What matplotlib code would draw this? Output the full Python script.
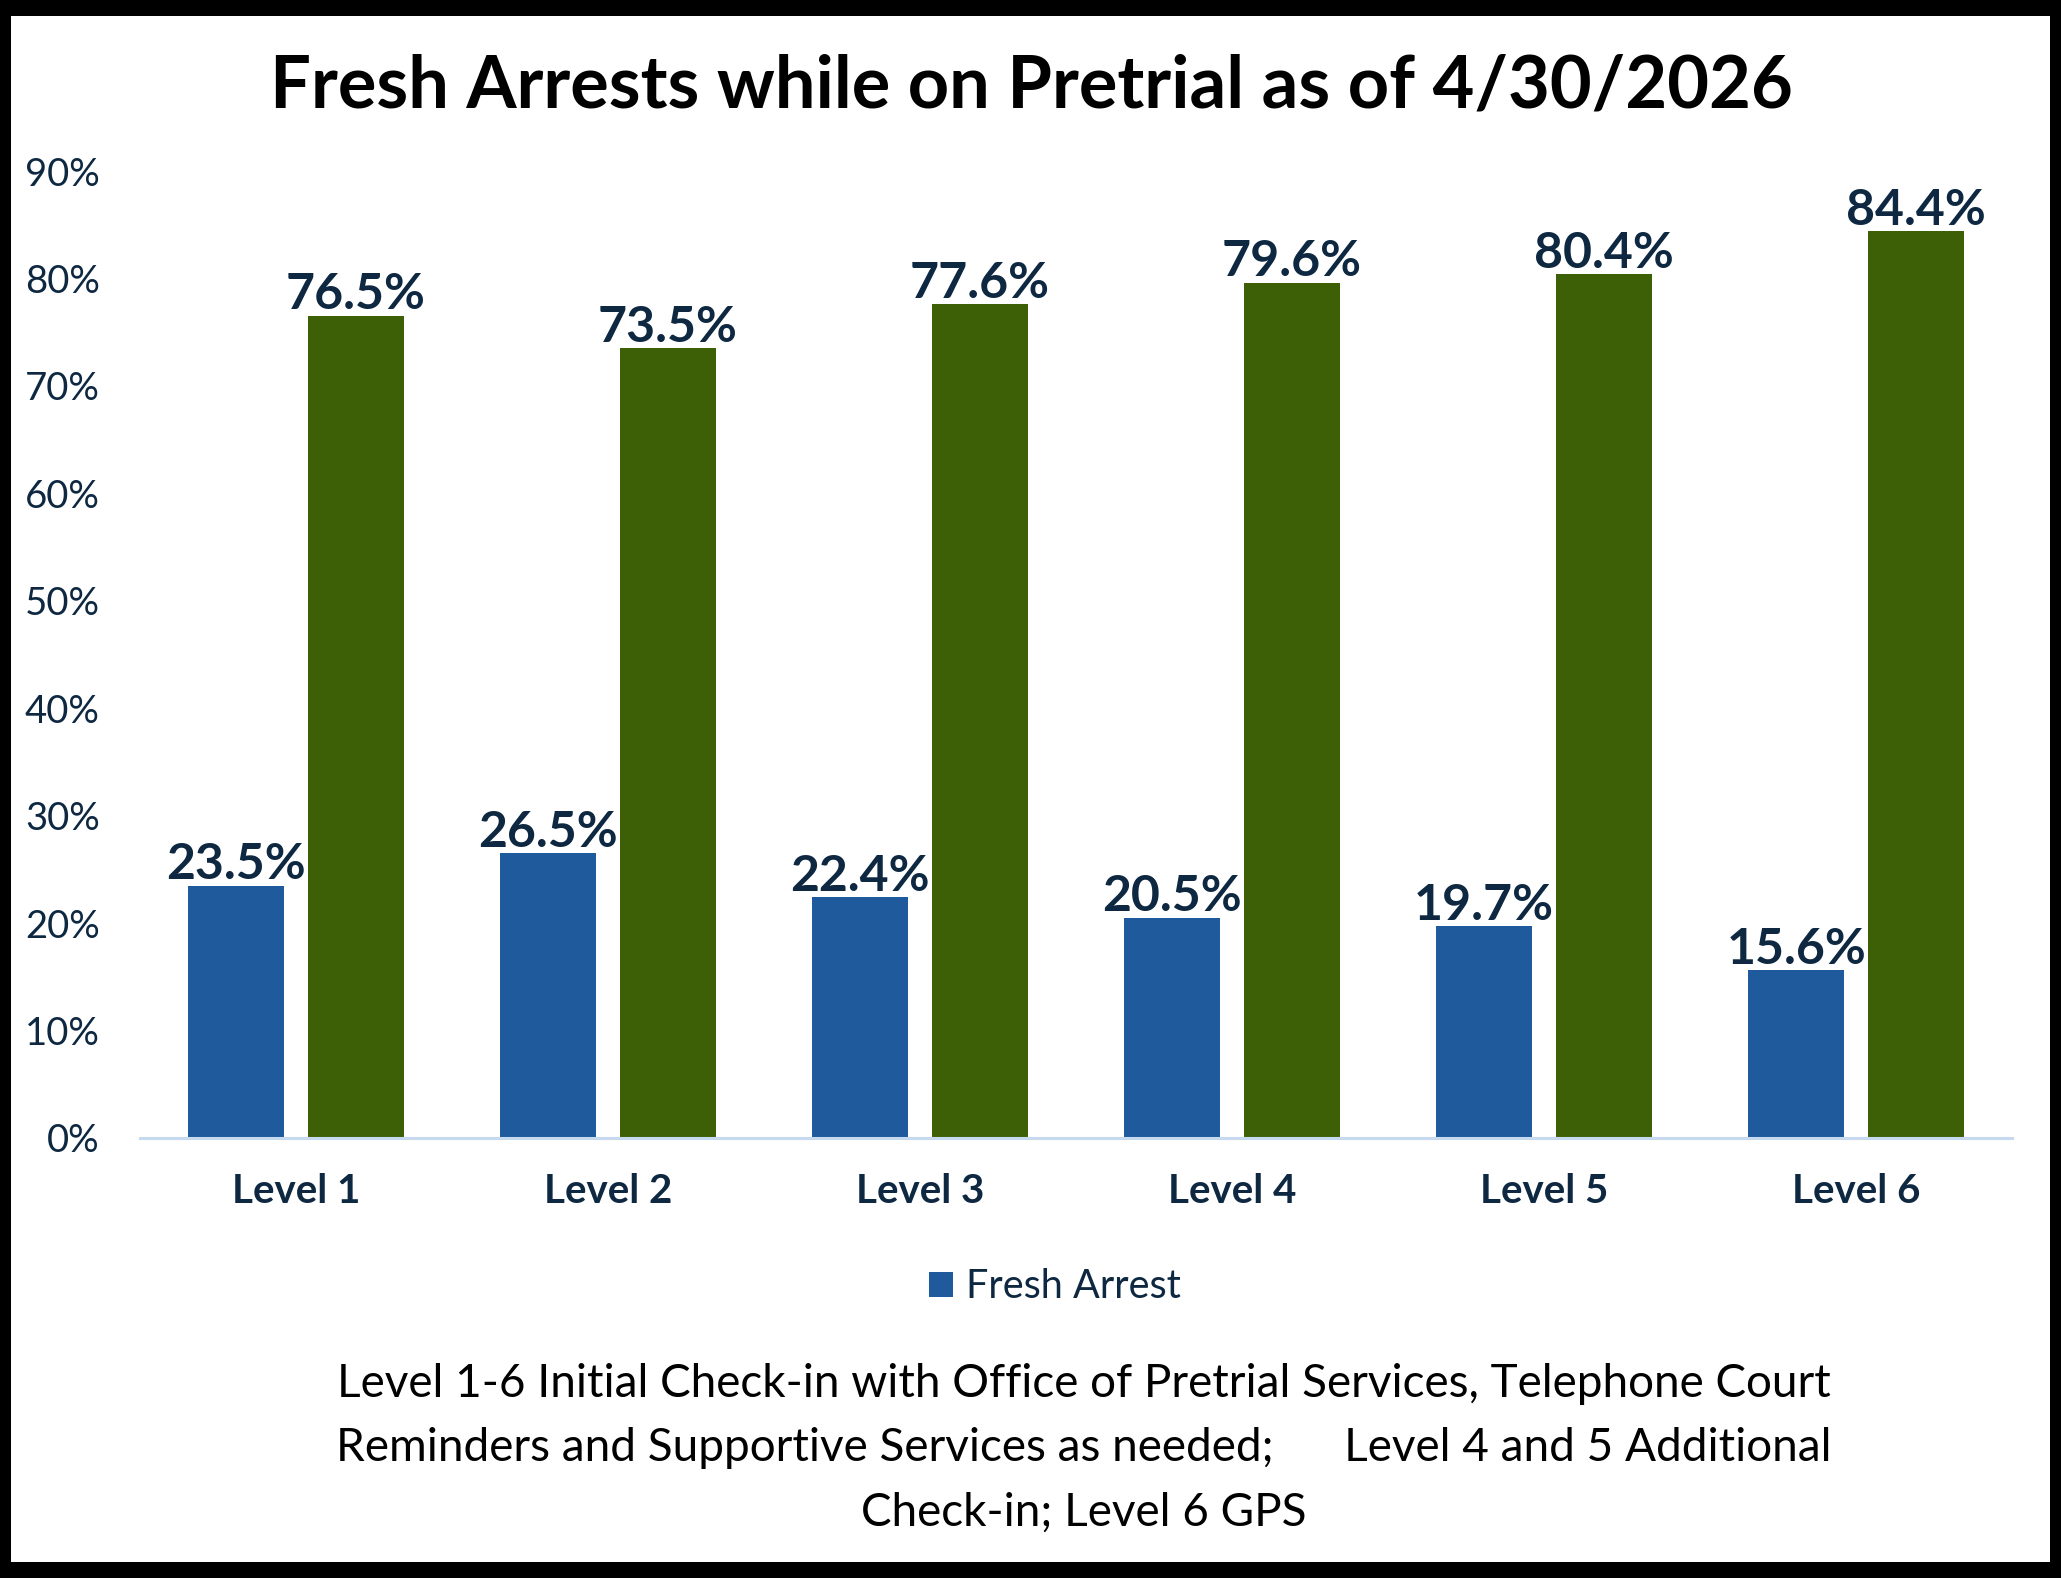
import matplotlib
matplotlib.use("Agg")
from matplotlib import pyplot as plt
from matplotlib.patches import Rectangle
import numpy as np

# data
levels = ["Level 1", "Level 2", "Level 3", "Level 4", "Level 5", "Level 6"]
fresh_arrest = [23.5, 26.5, 22.4, 20.5, 19.7, 15.6]
no_arrest = [76.5, 73.5, 77.6, 79.6, 80.4, 84.4]
y_ticks = [0, 10, 20, 30, 40, 50, 60, 70, 80, 90]

title = "Fresh Arrests while on Pretrial as of 4/30/2026"
note = ("Level 1-6 Initial Check-in with Office of Pretrial Services, Telephone Court\n"
        "Reminders and Supportive Services as needed;      Level 4 and 5 Additional\n"
        "Check-in; Level 6 GPS")

blue = "#1E5A9C"
green = "#3D6007"
navy = "#0E2841"

fig = plt.figure(figsize=(20.61, 15.78), dpi=100)
fig.patch.set_facecolor("black")
# white card inside the black frame
fig.add_artist(Rectangle((11 / 2061, 16 / 1578), 2039 / 2061, 1546 / 1578,
                         transform=fig.transFigure, facecolor="white",
                         edgecolor="none", zorder=0))

ax = fig.add_axes([140 / 2061, 440 / 1578, 1872 / 2061, 967 / 1578])
ax.set_facecolor("none")

x = np.arange(len(levels))
w = 0.307
off = 0.192
b1 = ax.bar(x - off, fresh_arrest, w, color=blue, label="Fresh Arrest")
b2 = ax.bar(x + off, no_arrest, w, color=green)

for bars in (b1, b2):
    ax.bar_label(bars, labels=["%.1f%%" % b.get_height() for b in bars],
                 padding=-1, fontsize=36, fontweight="bold", color=navy,
                 family="Lato")

ax.set_xlim(-0.5, len(levels) - 0.5)
ax.set_ylim(0, 90)
ax.set_yticks(y_ticks)
ax.set_yticklabels(["%d%%" % t for t in y_ticks], fontsize=27.5, color=navy,
                   family="Lato")
ax.set_xticks(x)
ax.set_xticklabels(levels, fontsize=29, fontweight="bold", color=navy,
                   family="Lato")
ax.tick_params(axis="y", length=0, pad=29)
ax.tick_params(axis="x", length=0, pad=25)

for s in ("top", "right", "left"):
    ax.spines[s].set_visible(False)
ax.spines["bottom"].set_color("#C6DAEF")
ax.spines["bottom"].set_linewidth(2.2)

fig.text(1031 / 2061, 1 - 87 / 1578, title, ha="center", va="center",
         fontsize=52, fontweight="bold", color="black", family="Lato")

leg = fig.legend(handles=[b1], loc="center",
                 bbox_to_anchor=(1055 / 2061, 1 - 1287 / 1578),
                 frameon=False, handlelength=0.6, handleheight=0.6,
                 handletextpad=0.35,
                 prop={"family": "Lato", "size": 28.5})
for t in leg.get_texts():
    t.set_color(navy)

fig.text(1084 / 2061, 1 - 1448 / 1578, note, ha="center", va="center",
         fontsize=33, color="black", family="Lato", linespacing=1.66)

fig.savefig("out.png", dpi=100, facecolor=fig.get_facecolor())
